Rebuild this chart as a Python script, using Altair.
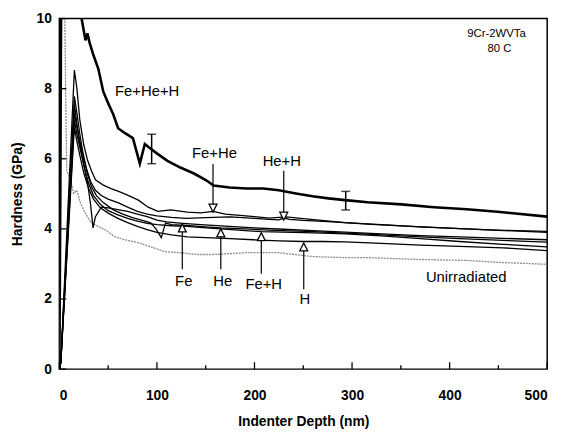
import altair as alt
import pandas as pd

# ---------------- data ----------------
X_TICKS = [0, 100, 200, 300, 400, 500]
X_MINOR = [50, 150, 250, 350, 450]
Y_TICKS = [0, 2, 4, 6, 8, 10]

fehe_h_x = [0, 1, 2, 12, 20, 22.8, 26.8, 28.8, 30.9, 34.9, 40, 45, 50.1, 55.2, 60.2, 67.3, 75.4,
            82.5, 87.6, 92.6, 100.6, 110.8, 124, 138, 151, 158, 174.6, 191.8, 209, 225, 242.4,
            259.6, 275.8, 293, 316, 350.7, 384, 417.6, 452, 500]
fehe_h_y = [0, 5, 12, 13, 10.8, 10.0, 9.38, 9.58, 9.32, 8.96, 8.56, 7.92, 7.58, 7.27, 6.87, 6.73, 6.59,
            5.86, 6.42, 6.31, 6.14, 5.94, 5.75, 5.58, 5.38, 5.24, 5.18, 5.15, 5.15, 5.10, 5.01,
            4.93, 4.87, 4.82, 4.76, 4.70, 4.62, 4.56, 4.48, 4.35]

fehe_x = [0, 1.5, 15.4, 18, 21, 25, 29, 33, 37, 45, 53, 60, 67, 75, 81, 91, 101, 114, 131, 145,
          157.5, 170, 182, 200, 215, 232, 250, 266, 293, 330, 370, 410, 455, 500]
fehe_y = [0, 0.2, 8.53, 8.0, 7.1, 6.4, 5.95, 5.65, 5.4, 5.25, 5.15, 5.08, 5.0, 4.9, 4.82, 4.62, 4.5,
          4.54, 4.48, 4.46, 4.5, 4.42, 4.39, 4.35, 4.31, 4.34, 4.29, 4.25, 4.18, 4.12, 4.06, 4.01, 3.96, 3.93]

heh_x = [0, 1.5, 15.4, 18, 21, 24, 28, 32, 37, 43, 50, 60, 70, 80, 90, 100, 115, 130, 150, 175,
         200, 215, 225, 230, 236, 250, 280, 320, 360, 400, 450, 500]
heh_y = [0, 0.2, 7.78, 7.3, 6.7, 6.2, 5.7, 5.35, 5.1, 4.95, 4.85, 4.75, 4.62, 4.5, 4.42, 4.37, 4.33,
         4.3, 4.32, 4.34, 4.3, 4.27, 4.26, 4.31, 4.27, 4.24, 4.2, 4.13, 4.07, 4.02, 3.96, 3.9]

fe_x = [0, 1.5, 15.4, 18, 21, 25, 29, 32, 34.5, 37, 43, 50, 60, 70, 80, 90, 100, 110, 126, 145,
        170, 200, 230, 260, 293, 330, 370, 410, 455, 500]
fe_y = [0, 0.2, 7.55, 7.0, 6.4, 5.85, 5.3, 4.7, 4.03, 4.35, 4.62, 4.6, 4.55, 4.5, 4.42, 4.35, 4.25,
        4.2, 4.16, 4.12, 4.08, 4.03, 3.99, 3.95, 3.91, 3.86, 3.81, 3.77, 3.73, 3.69]

he_x = [0, 1.5, 15.4, 18, 21, 25, 29, 33, 38, 45, 55, 65, 75, 85, 93.6, 99, 104.5, 108.8, 115, 130,
        150, 165.5, 190, 220, 260, 293, 330, 370, 410, 455, 500]
he_y = [0, 0.2, 7.3, 6.9, 6.5, 6.0, 5.55, 5.2, 4.95, 4.75, 4.55, 4.42, 4.32, 4.24, 4.17, 4.0, 3.75,
        4.17, 4.12, 4.1, 4.06, 4.03, 4.0, 3.96, 3.92, 3.88, 3.83, 3.77, 3.72, 3.67, 3.62]

feh_x = [0, 1.5, 15.4, 18, 22, 26, 30, 35, 42, 50, 60, 70, 80, 90, 100, 115, 131, 150, 180, 207,
         240, 270, 293, 330, 370, 410, 455, 500]
feh_y = [0, 0.2, 7.1, 6.7, 6.2, 5.7, 5.3, 4.95, 4.7, 4.52, 4.4, 4.3, 4.22, 4.16, 4.12, 4.09, 4.07,
         4.03, 3.97, 3.92, 3.9, 3.88, 3.86, 3.8, 3.72, 3.64, 3.56, 3.49]

h_x = [0, 1.5, 15.4, 18, 21, 25, 30, 35, 42, 50, 60, 70, 80, 90, 100, 115, 131, 150, 175, 199,
       225, 250.5, 270, 293, 330, 370, 410, 455, 500]
h_y = [0, 0.2, 6.9, 6.5, 6.1, 5.6, 5.15, 4.85, 4.6, 4.45, 4.3, 4.18, 4.07, 3.98, 3.9, 3.83, 3.77,
       3.75, 3.72, 3.69, 3.66, 3.64, 3.64, 3.63, 3.59, 3.54, 3.5, 3.46, 3.38]

unirr_x = [0, 2.5, 4.5, 5.6, 6.5, 7.6, 11.6, 14.7, 17.7, 21.8, 24.8, 31.9, 36.9, 47.1, 57.2, 67.3,
           80.4, 93.6, 107.8, 124, 141, 158, 191.8, 225, 259.6, 293, 316, 367, 417.6, 454, 500]
unirr_y = [0, 10.8, 11, 10.0, 7.8, 5.66, 5.38, 5.01, 5.10, 4.73, 4.54, 4.2, 4.11, 3.97, 3.77, 3.69,
           3.61, 3.49, 3.35, 3.32, 3.27, 3.27, 3.32, 3.32, 3.21, 3.18, 3.18, 3.13, 3.10, 3.04, 2.99]

# error bars
err_x = [94.6, 293.5]
err_lo = [5.86, 4.54]
err_hi = [6.70, 5.07]

# arrows: x, tip, shaft start (label side), direction
arrow_names = ["Fe+He", "He+H", "Fe", "He", "Fe+H", "H"]
arrow_x = [157.5, 230, 126, 165.5, 207, 250.5]
arrow_tip = [4.48, 4.25, 4.14, 4.00, 3.89, 3.60]
arrow_start = [5.85, 5.66, 2.85, 2.85, 2.72, 2.28]
arrow_dir = ["down", "down", "up", "up", "up", "up"]

# labels
label_text = ["Fe+He+H", "Fe+He", "He+H", "Fe", "He", "Fe+H", "H", "Unirradiated"]
label_x = [90, 159, 228, 127.5, 167.5, 209.5, 251.5, 417]
label_y = [7.92, 6.17, 5.94, 2.51, 2.51, 2.42, 2.00, 2.62]

note_text = ["9Cr-2WVTa", "80 C"]
note_x = [448, 451]
note_y = [9.55, 9.13]

# ---------------- build tables ----------------
thin = {"Fe+He": (fehe_x, fehe_y), "He+H": (heh_x, heh_y), "Fe": (fe_x, fe_y),
        "He": (he_x, he_y), "Fe+H": (feh_x, feh_y), "H": (h_x, h_y)}
rows = []
for name, (xs_, ys_) in thin.items():
    for k, (a, b) in enumerate(zip(xs_, ys_)):
        rows.append({"series": name, "x": a, "y": b, "i": k})
thin_df = pd.DataFrame(rows)
thick_df = pd.DataFrame({"x": fehe_h_x, "y": fehe_h_y, "i": range(len(fehe_h_x))})
gray_df = pd.DataFrame({"x": unirr_x, "y": unirr_y, "i": range(len(unirr_x))})

err_df = pd.DataFrame({"x": err_x, "y": err_lo, "y2": err_hi})
cap_df = pd.DataFrame({"x": err_x + err_x, "y": err_lo + err_hi})

shaft_rows, head_rows = [], []
for n, ax, tip, st, d in zip(arrow_names, arrow_x, arrow_tip, arrow_start, arrow_dir):
    base = tip + 0.2 if d == "down" else tip - 0.2
    shaft_rows.append({"x": ax, "y": st, "y2": base})
    head_rows.append({"x": ax, "y": tip, "dir": d})
shaft_df = pd.DataFrame(shaft_rows)
head_df = pd.DataFrame(head_rows)

label_df = pd.DataFrame({"x": label_x, "y": label_y, "text": label_text})
note_df = pd.DataFrame({"x": note_x, "y": note_y, "text": note_text})

W, H = 494, 355
FONT = "Liberation Sans"
xscale = alt.Scale(domain=[0, 500], nice=False, zero=False)
yscale = alt.Scale(domain=[0, 10], nice=False, zero=False)
xaxis = alt.Axis(values=X_TICKS, title="Indenter Depth (nm)", domain=False, ticks=False, tickSize=0,
                 grid=False, labelFont=FONT, labelFontSize=14, labelFontWeight="bold",
                 labelColor="black", labelPadding=20, titleFont=FONT, titleFontSize=14,
                 titleFontWeight="bold", titleColor="black", titlePadding=12)
yaxis = alt.Axis(values=Y_TICKS, title="Hardness (GPa)", domain=False, ticks=False, tickSize=0,
                 grid=False, labelFont=FONT, labelFontSize=14, labelFontWeight="bold",
                 labelColor="black", labelPadding=8, titleFont=FONT, titleFontSize=14,
                 titleFontWeight="bold", titleColor="black", titlePadding=12)


def X(field="x"):
    return alt.X(f"{field}:Q", scale=xscale, axis=xaxis)


def Y(field="y"):
    return alt.Y(f"{field}:Q", scale=yscale, axis=yaxis)


thin_layer = alt.Chart(thin_df).mark_line(clip=True, color="black", strokeWidth=1.3).encode(
    x=X(), y=Y(), detail="series:N", order="i:Q")
gray_layer = alt.Chart(gray_df).mark_line(clip=True, color="#8a8a8a", strokeWidth=1.3,
                                          strokeDash=[2, 1]).encode(x=X(), y=Y(), order="i:Q")
thick_layer = alt.Chart(thick_df).mark_line(clip=True, color="black", strokeWidth=2.6).encode(
    x=X(), y=Y(), order="i:Q")

err_layer = alt.Chart(err_df).mark_rule(color="black", strokeWidth=1.5).encode(
    x=X(), y=Y(), y2="y2:Q")
cap_layer = alt.Chart(cap_df).mark_tick(orient="horizontal", color="black", size=9,
                                         thickness=1.5).encode(x=X(), y=Y())

shaft_layer = alt.Chart(shaft_df).mark_rule(color="black", strokeWidth=1.2).encode(
    x=X(), y=Y(), y2="y2:Q")
down_head = alt.Chart(head_df[head_df.dir == "down"]).mark_point(
    shape="M0,0L-1,-2L1,-2Z", size=64, filled=True, fill="white", stroke="black",
    strokeWidth=1.3, opacity=1).encode(x=X(), y=Y())
up_head = alt.Chart(head_df[head_df.dir == "up"]).mark_point(
    shape="M0,0L-1,2L1,2Z", size=64, filled=True, fill="white", stroke="black",
    strokeWidth=1.3, opacity=1).encode(x=X(), y=Y())

label_layer = alt.Chart(label_df).mark_text(font=FONT, fontSize=15, color="black",
                                            align="center", baseline="middle").encode(
    x=X(), y=Y(), text="text:N")
note_layer = alt.Chart(note_df).mark_text(font=FONT, fontSize=11.5, color="black",
                                          align="center", baseline="middle").encode(
    x=X(), y=Y(), text="text:N")

xmaj = alt.Chart(pd.DataFrame({"x": X_TICKS})).mark_rule(color="black", strokeWidth=1.3).encode(
    x=X(), y=alt.value(H), y2=alt.value(H - 7))
xmin = alt.Chart(pd.DataFrame({"x": X_MINOR})).mark_rule(color="black", strokeWidth=1.3).encode(
    x=X(), y=alt.value(H), y2=alt.value(H - 4))
ymaj = alt.Chart(pd.DataFrame({"y": Y_TICKS})).mark_rule(color="black", strokeWidth=1.3).encode(
    y=Y(), x=alt.value(0), x2=alt.value(7))

chart = alt.layer(
    gray_layer, thin_layer, thick_layer, err_layer, cap_layer, shaft_layer, down_head, up_head,
    label_layer, note_layer, xmaj, xmin, ymaj
).properties(
    width=W, height=H,
    autosize=alt.AutoSizeParams(type="none"),
    padding={"left": 52, "top": 8, "right": 14, "bottom": 62},
    background="white",
).configure_view(stroke="black", strokeWidth=1.5)

chart.save("out.html", embed_options={"renderer": "svg", "actions": False})
